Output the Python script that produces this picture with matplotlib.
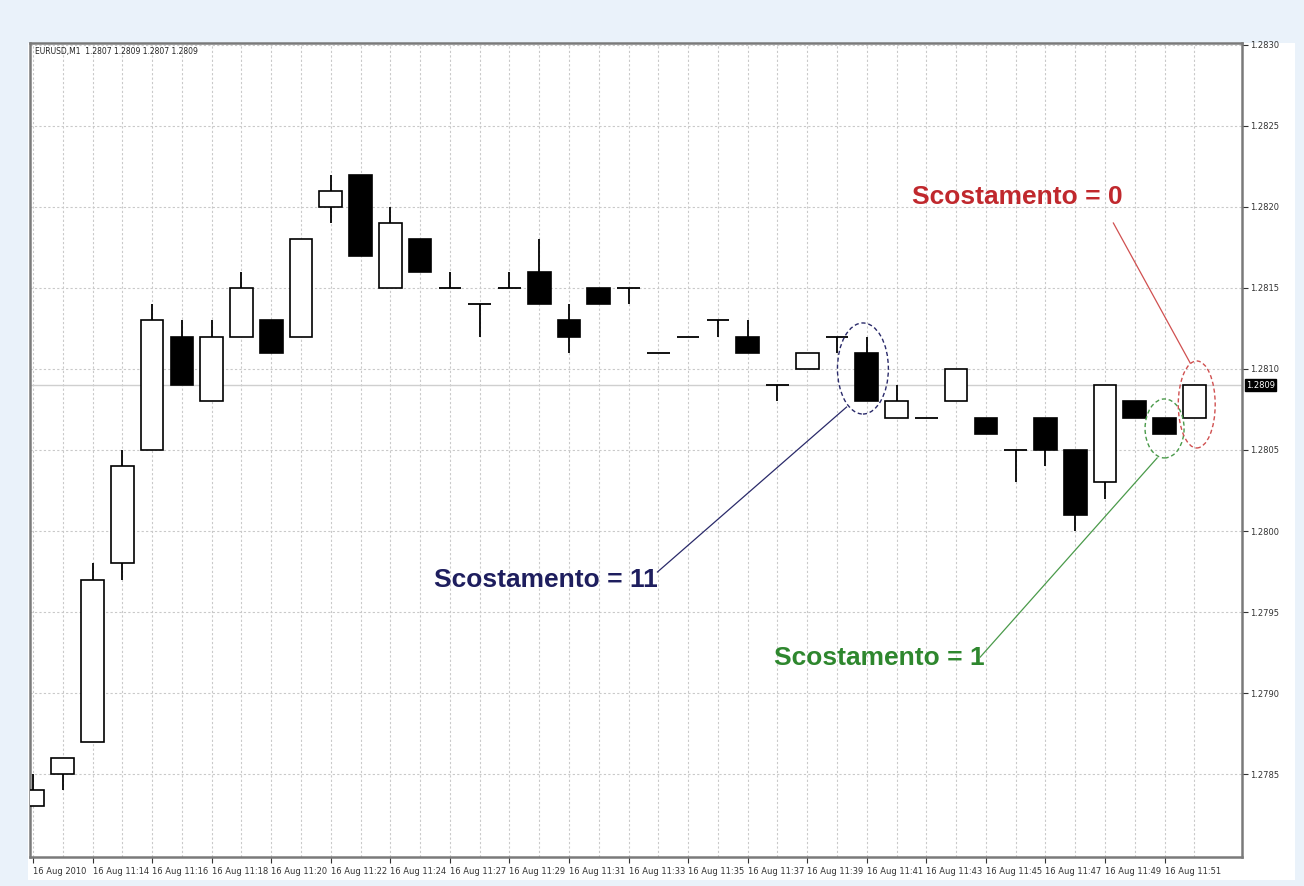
import numpy as np
import matplotlib.pyplot as plt
from matplotlib.patches import Ellipse, Rectangle

# EURUSD M1, 16 Aug 2010 - one entry per minute bar
opens  = [1.2783, 1.2785, 1.2787, 1.2798, 1.2805, 1.2812, 1.2808, 1.2812, 1.2813, 1.2812,
          1.2820, 1.2822, 1.2815, 1.2818, 1.2815, 1.2814, 1.2815, 1.2816, 1.2813, 1.2815,
          1.2815, 1.2811, 1.2812, 1.2813, 1.2812, 1.2809, 1.2810, 1.2812, 1.2811, 1.2807,
          1.2807, 1.2808, 1.2807, 1.2805, 1.2807, 1.2805, 1.2803, 1.2808, 1.2807, 1.2807]
highs  = [1.2785, 1.2786, 1.2798, 1.2805, 1.2814, 1.2813, 1.2813, 1.2816, 1.2813, 1.2818,
          1.2822, 1.2822, 1.2820, 1.2818, 1.2816, 1.2814, 1.2816, 1.2818, 1.2814, 1.2815,
          1.2815, 1.2811, 1.2812, 1.2813, 1.2813, 1.2809, 1.2811, 1.2812, 1.2812, 1.2809,
          1.2807, 1.2810, 1.2807, 1.2805, 1.2807, 1.2805, 1.2809, 1.2808, 1.2807, 1.2809]
lows   = [1.2783, 1.2784, 1.2787, 1.2797, 1.2805, 1.2809, 1.2808, 1.2812, 1.2811, 1.2812,
          1.2819, 1.2817, 1.2815, 1.2816, 1.2815, 1.2812, 1.2815, 1.2814, 1.2811, 1.2814,
          1.2814, 1.2811, 1.2812, 1.2812, 1.2811, 1.2808, 1.2810, 1.2811, 1.2808, 1.2807,
          1.2807, 1.2808, 1.2806, 1.2803, 1.2804, 1.2800, 1.2802, 1.2807, 1.2806, 1.2807]
closes = [1.2784, 1.2786, 1.2797, 1.2804, 1.2813, 1.2809, 1.2812, 1.2815, 1.2811, 1.2818,
          1.2821, 1.2817, 1.2819, 1.2816, 1.2815, 1.2814, 1.2815, 1.2814, 1.2812, 1.2814,
          1.2815, 1.2811, 1.2812, 1.2813, 1.2811, 1.2809, 1.2811, 1.2812, 1.2808, 1.2808,
          1.2807, 1.2810, 1.2806, 1.2805, 1.2805, 1.2801, 1.2809, 1.2807, 1.2806, 1.2809]

time_labels = ['16 Aug 2010', '16 Aug 11:14', '16 Aug 11:16', '16 Aug 11:18', '16 Aug 11:20',
               '16 Aug 11:22', '16 Aug 11:24', '16 Aug 11:27', '16 Aug 11:29', '16 Aug 11:31',
               '16 Aug 11:33', '16 Aug 11:35', '16 Aug 11:37', '16 Aug 11:39', '16 Aug 11:41',
               '16 Aug 11:43', '16 Aug 11:45', '16 Aug 11:47', '16 Aug 11:49', '16 Aug 11:51']
price_ticks = [1.2785, 1.2790, 1.2795, 1.2800, 1.2805, 1.2810, 1.2815, 1.2820, 1.2825, 1.2830]
bid = 1.2809

bg = '#eaf2fa'
fig = plt.figure(figsize=(13.04, 8.86), dpi=100, facecolor=bg)
# white chart window behind the axes and its labels
fig.patches.append(Rectangle((28 / 1304, 6 / 886), 1267 / 1304, 837 / 886,
                             transform=fig.transFigure, facecolor='white',
                             edgecolor='none', zorder=-5))
ax = fig.add_axes([30 / 1304, 29 / 886, 1212 / 1304, 814 / 886])
ax.set_facecolor('white')

n = len(opens)
x = np.arange(n)
o = np.array(opens)
c = np.array(closes)

# grid
for xi in x:
    ax.axvline(xi, color='#c9c9c9', lw=0.8, ls=(0, (2, 2)), zorder=0)
for p in price_ticks:
    ax.axhline(p, color='#c9c9c9', lw=0.8, ls=(0, (2, 2)), zorder=0)
ax.axhline(bid, color='#cfcfcf', lw=1.0, zorder=0)

# candles
w = 0.76
ax.vlines(x, lows, highs, color='black', lw=1.3, zorder=2)
body = np.abs(c - o)
flat = body == 0
up = (c > o)
colors = np.where(up, 'white', 'black')
ax.bar(x[~flat], body[~flat], bottom=np.minimum(o, c)[~flat], width=w,
       color=colors[~flat], edgecolor='black', lw=1.2, zorder=3)
ax.hlines(o[flat], x[flat] - w / 2, x[flat] + w / 2, color='black', lw=1.3, zorder=3)

ax.set_xlim(-0.1, 40.6)
ax.set_ylim(1.277988, 1.283012)

# axes look
for s in ax.spines.values():
    s.set_color('#7a7a7a')
    s.set_linewidth(1.8)
ax.yaxis.tick_right()
ax.set_yticks(price_ticks)
ax.set_yticklabels([f'{p:.4f}' for p in price_ticks])
ax.set_xticks(x[::2])
ax.set_xticklabels(time_labels, ha='left')
ax.tick_params(axis='both', labelsize=6, colors='#333333', length=4, width=0.8, pad=2)
ax.tick_params(axis='x', pad=3)

ax.annotate('1.2809', xy=(1.0, bid), xycoords=('axes fraction', 'data'),
            xytext=(3, 0), textcoords='offset points', va='center', ha='left',
            fontsize=6, color='white',
            bbox=dict(boxstyle='square,pad=0.15', fc='black', ec='black'))

ax.text(0.004, 0.995, 'EURUSD,M1  1.2807 1.2809 1.2807 1.2809', transform=ax.transAxes,
        fontsize=5.5, color='#222222', va='top', ha='left')

# highlighted bars
ax.add_patch(Ellipse((27.87, 1.281003), 1.71, 0.000562, fill=False,
                     ec='#2a2a6a', lw=1.0, ls=(0, (3, 2)), zorder=4))
ax.add_patch(Ellipse((38.0, 1.280633), 1.31, 0.000364, fill=False,
                     ec='#4a9a4a', lw=1.0, ls=(0, (3, 2)), zorder=4))
ax.add_patch(Ellipse((39.08, 1.280781), 1.24, 0.000537, fill=False,
                     ec='#d05050', lw=1.0, ls=(0, (3, 2)), zorder=4))

tfont = dict(family='Liberation Sans', fontsize=19, fontweight='bold', va='center', ha='left')
ax.text(13.46, 1.279698, 'Scostamento = 11', color='#1e1e5e', **tfont)
ax.plot([20.97, 27.32], [1.279747, 1.280765], color='#2a2a6a', lw=0.9, zorder=4)
ax.text(24.87, 1.279216, 'Scostamento = 1', color='#2e872e', **tfont)
ax.plot([31.81, 37.75], [1.279222, 1.280451], color='#4a9a4a', lw=0.9, zorder=4)
ax.text(29.53, 1.282062, 'Scostamento = 0', color='#c0282d', **tfont)
ax.plot([36.28, 38.86], [1.281901, 1.281037], color='#d05050', lw=0.9, zorder=4)

fig.savefig('out.png', dpi=100, facecolor=bg)
